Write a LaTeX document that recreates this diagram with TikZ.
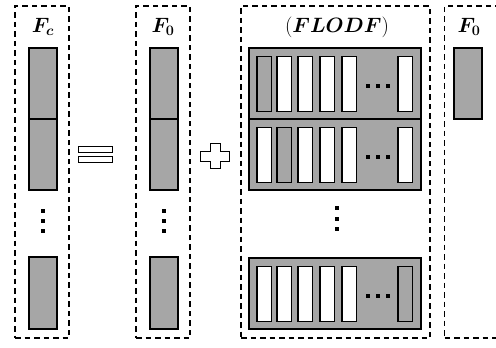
\documentclass[tikz,border=0pt]{standalone}
\usepackage{bm}
\definecolor{barGray}{HTML}{A6A6A6}
\tikzset{
  grp/.style={draw=black, dashed, dash pattern=on 5.5pt off 4pt, line width=1.3pt, inner sep=0pt, outer sep=0pt, anchor=north west},
  bar/.style={draw=black, fill=barGray, line width=1.3pt, inner sep=0pt, outer sep=0pt, anchor=north west, minimum width=28pt},
  rowbox/.style={draw=black, fill=barGray, line width=1.3pt, inner sep=0pt, outer sep=0pt, anchor=north west, minimum width=172pt, minimum height=71pt},
  cell/.style={draw=black, fill=white, line width=1.3pt, inner sep=0pt, outer sep=0pt, anchor=north west, minimum width=14.5pt, minimum height=55pt},
  cellg/.style={cell, fill=barGray},
  lbl/.style={inner sep=0pt, font=\fontsize{22}{24}\selectfont},
  dotsq/.style={fill=black, inner sep=0pt, minimum size=3.6pt},
  eqbar/.style={draw=black, fill=white, line width=1pt, inner sep=0pt, outer sep=0pt, anchor=north west, minimum width=34pt, minimum height=6pt},
}
\begin{document}
\begin{tikzpicture}[x=1pt,y=-1pt]
\useasboundingbox (0,0) rectangle (496,348);
% group boxes
\node[grp, minimum width=54pt, minimum height=332pt] (g1) at (15,6) {};
\node[grp, minimum width=54pt, minimum height=332pt] (g2) at (136,6) {};
\node[grp, minimum width=189pt, minimum height=332pt] (g3) at (241,6) {};
\node[grp, minimum width=52pt, minimum height=332pt] (g4) at (444.5,6) {};
% labels
\node[lbl] (l1) at (43,27) {$\bm{F}_{\bm{c}}$};
\node[lbl] (l2) at (163,27) {$\bm{F}_{\bm{0}}$};
\node[lbl] (l3) at (337,27) {$(\bm{FLODF})$};
\node[lbl] (l4) at (469,27) {$\bm{F}_{\bm{0}}$};
% Fc column
\node[bar, minimum height=71pt] (a1) at (29,48) {};
\node[bar, minimum height=71pt] (a2) at (29,119) {};
\node[bar, minimum height=72pt] (a3) at (29,257) {};
\foreach \y [count=\i] in {211,221,231} \node[dotsq] (ad\i) at (43,\y) {};
% F0 column
\node[bar, minimum height=71pt] (b1) at (150,48) {};
\node[bar, minimum height=71pt] (b2) at (150,119) {};
\node[bar, minimum height=72pt] (b3) at (150,257) {};
\foreach \y [count=\i] in {211,221,231} \node[dotsq] (bd\i) at (164,\y) {};
% equal sign
\node[eqbar] (eq1) at (78,146) {};
\node[eqbar] (eq2) at (78,156) {};
% plus sign
\draw[line width=1pt, fill=white] (210,143) -- (220,143) -- (220,151) -- (229,151) -- (229,161) -- (220,161) -- (220,168) -- (210,168) -- (210,161) -- (200,161) -- (200,151) -- (210,151) -- cycle;
% FLODF rows
\foreach \r/\y/\g in {1/48/1,2/119/2,3/258/6}{
  \node[rowbox] (r\r) at (249,\y) {};
  \foreach \x [count=\k] in {257,277,298,320,342,398}{
    \ifnum\k=\g
      \node[cellg] (r\r c\k) at (\x,\y+8.5) {};
    \else
      \node[cell] (r\r c\k) at (\x,\y+8.5) {};
    \fi
  }
  \foreach \x [count=\k] in {368,378,388} \node[dotsq] (r\r d\k) at (\x,\y+38) {};
}
\foreach \y [count=\i] in {208,219,229} \node[dotsq] (cd\i) at (337,\y) {};
% last F0
\node[bar, minimum height=71pt] (e1) at (454,48) {};
\end{tikzpicture}
\end{document}
